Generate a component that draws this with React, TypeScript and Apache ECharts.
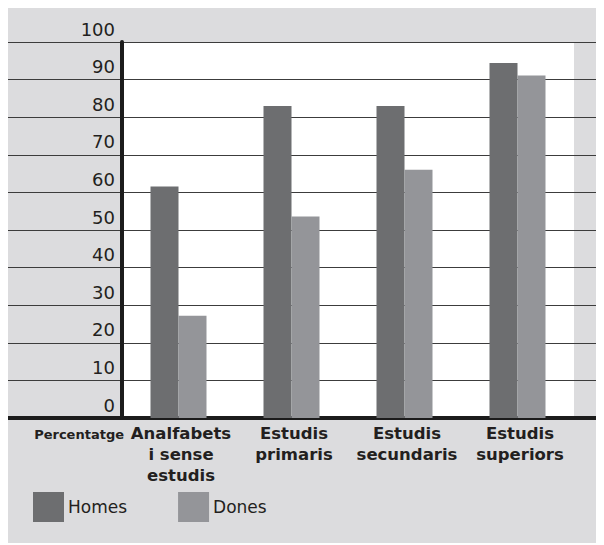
import React, { useEffect, useRef } from "react";
import * as echarts from "echarts";

const categories = ["Analfabets\ni sense\nestudis", "Estudis\nprimaris", "Estudis\nsecundaris", "Estudis\nsuperiors"];
const homes = [61.6, 83, 83, 94.4];
const dones = [27.2, 53.6, 66, 91.1];
const seriesNames = ["Homes", "Dones"];
const axisName = "Percentatge";

export default function App() {
  const ref = useRef<HTMLDivElement>(null);
  useEffect(() => {
    if (!ref.current) return;
    const chart = echarts.init(ref.current, null, { renderer: "svg" });
    const txt = "#231f20";
    chart.setOption({
      animation: false,
      backgroundColor: "#dcdcde",
      textStyle: { fontFamily: "DejaVu Sans" },
      grid: [
        { left: 116, right: 30, top: 34, height: 376, show: true, backgroundColor: "#ffffff", borderWidth: 0 },
        { left: 0, right: 0, top: 34, height: 376, show: false },
      ],
      legend: {
        data: seriesNames,
        left: 27,
        top: 484,
        padding: 0,
        itemWidth: 31,
        itemHeight: 30,
        itemGap: 51,
        icon: "rect",
        textStyle: { fontSize: 17, color: txt, fontFamily: "DejaVu Sans", padding: [0, 0, 4, -1] },
      },
      xAxis: [
        {
          type: "category",
          gridIndex: 0,
          data: categories,
          axisLine: { show: false },
          axisTick: { show: false },
          axisLabel: {
            interval: 0,
            margin: 5,
            fontSize: 16.5,
            lineHeight: 21,
            fontWeight: "bold",
            color: txt,
            fontFamily: "DejaVu Sans",
            padding: [0, 0, 0, 5],
          },
          name: axisName,
          nameLocation: "start",
          nameGap: -2,
          nameMoveOverlap: false,
          nameTextStyle: {
            fontSize: 13,
            fontWeight: "bold",
            color: txt,
            fontFamily: "DejaVu Sans",
            align: "right",
            verticalAlign: "top",
            padding: [10, 0, 0, 0],
          },
        },
        {
          type: "value",
          gridIndex: 1,
          min: 0,
          max: 1,
          axisLabel: { show: false },
          axisTick: { show: false },
          splitLine: { show: false },
          axisLine: { show: true, lineStyle: { color: "#1c1c1c", width: 4 } },
        },
      ],
      yAxis: [
        {
          type: "value",
          gridIndex: 0,
          min: 0,
          max: 100,
          interval: 10,
          splitLine: { show: false },
          axisTick: { show: false },
          axisLine: { show: true, lineStyle: { color: "#1c1c1c", width: 4 } },
          axisLabel: {
            margin: 7,
            fontSize: 18,
            color: txt,
            fontFamily: "DejaVu Sans",
            verticalAlign: "bottom",
            padding: [0, 0, 4, 0],
          },
        },
        {
          type: "value",
          gridIndex: 1,
          min: 0,
          max: 100,
          interval: 10,
          axisLabel: { show: false },
          axisTick: { show: false },
          axisLine: { show: false },
          splitLine: { show: true, lineStyle: { color: "#3c3c3c", width: 1 } },
        },
      ],
      series: [
        {
          name: seriesNames[0],
          type: "bar",
          xAxisIndex: 0,
          yAxisIndex: 0,
          data: homes,
          barWidth: 28,
          barGap: "0%",
          itemStyle: { color: "#6d6e70" },
        },
        {
          name: seriesNames[1],
          type: "bar",
          xAxisIndex: 0,
          yAxisIndex: 0,
          data: dones,
          barWidth: 28,
          barGap: "0%",
          itemStyle: { color: "#949599" },
        },
      ],
    });
    return () => chart.dispose();
  }, []);
  return <div ref={ref} style={{ width: 598, height: 535, marginLeft: -2 }} />;
}
